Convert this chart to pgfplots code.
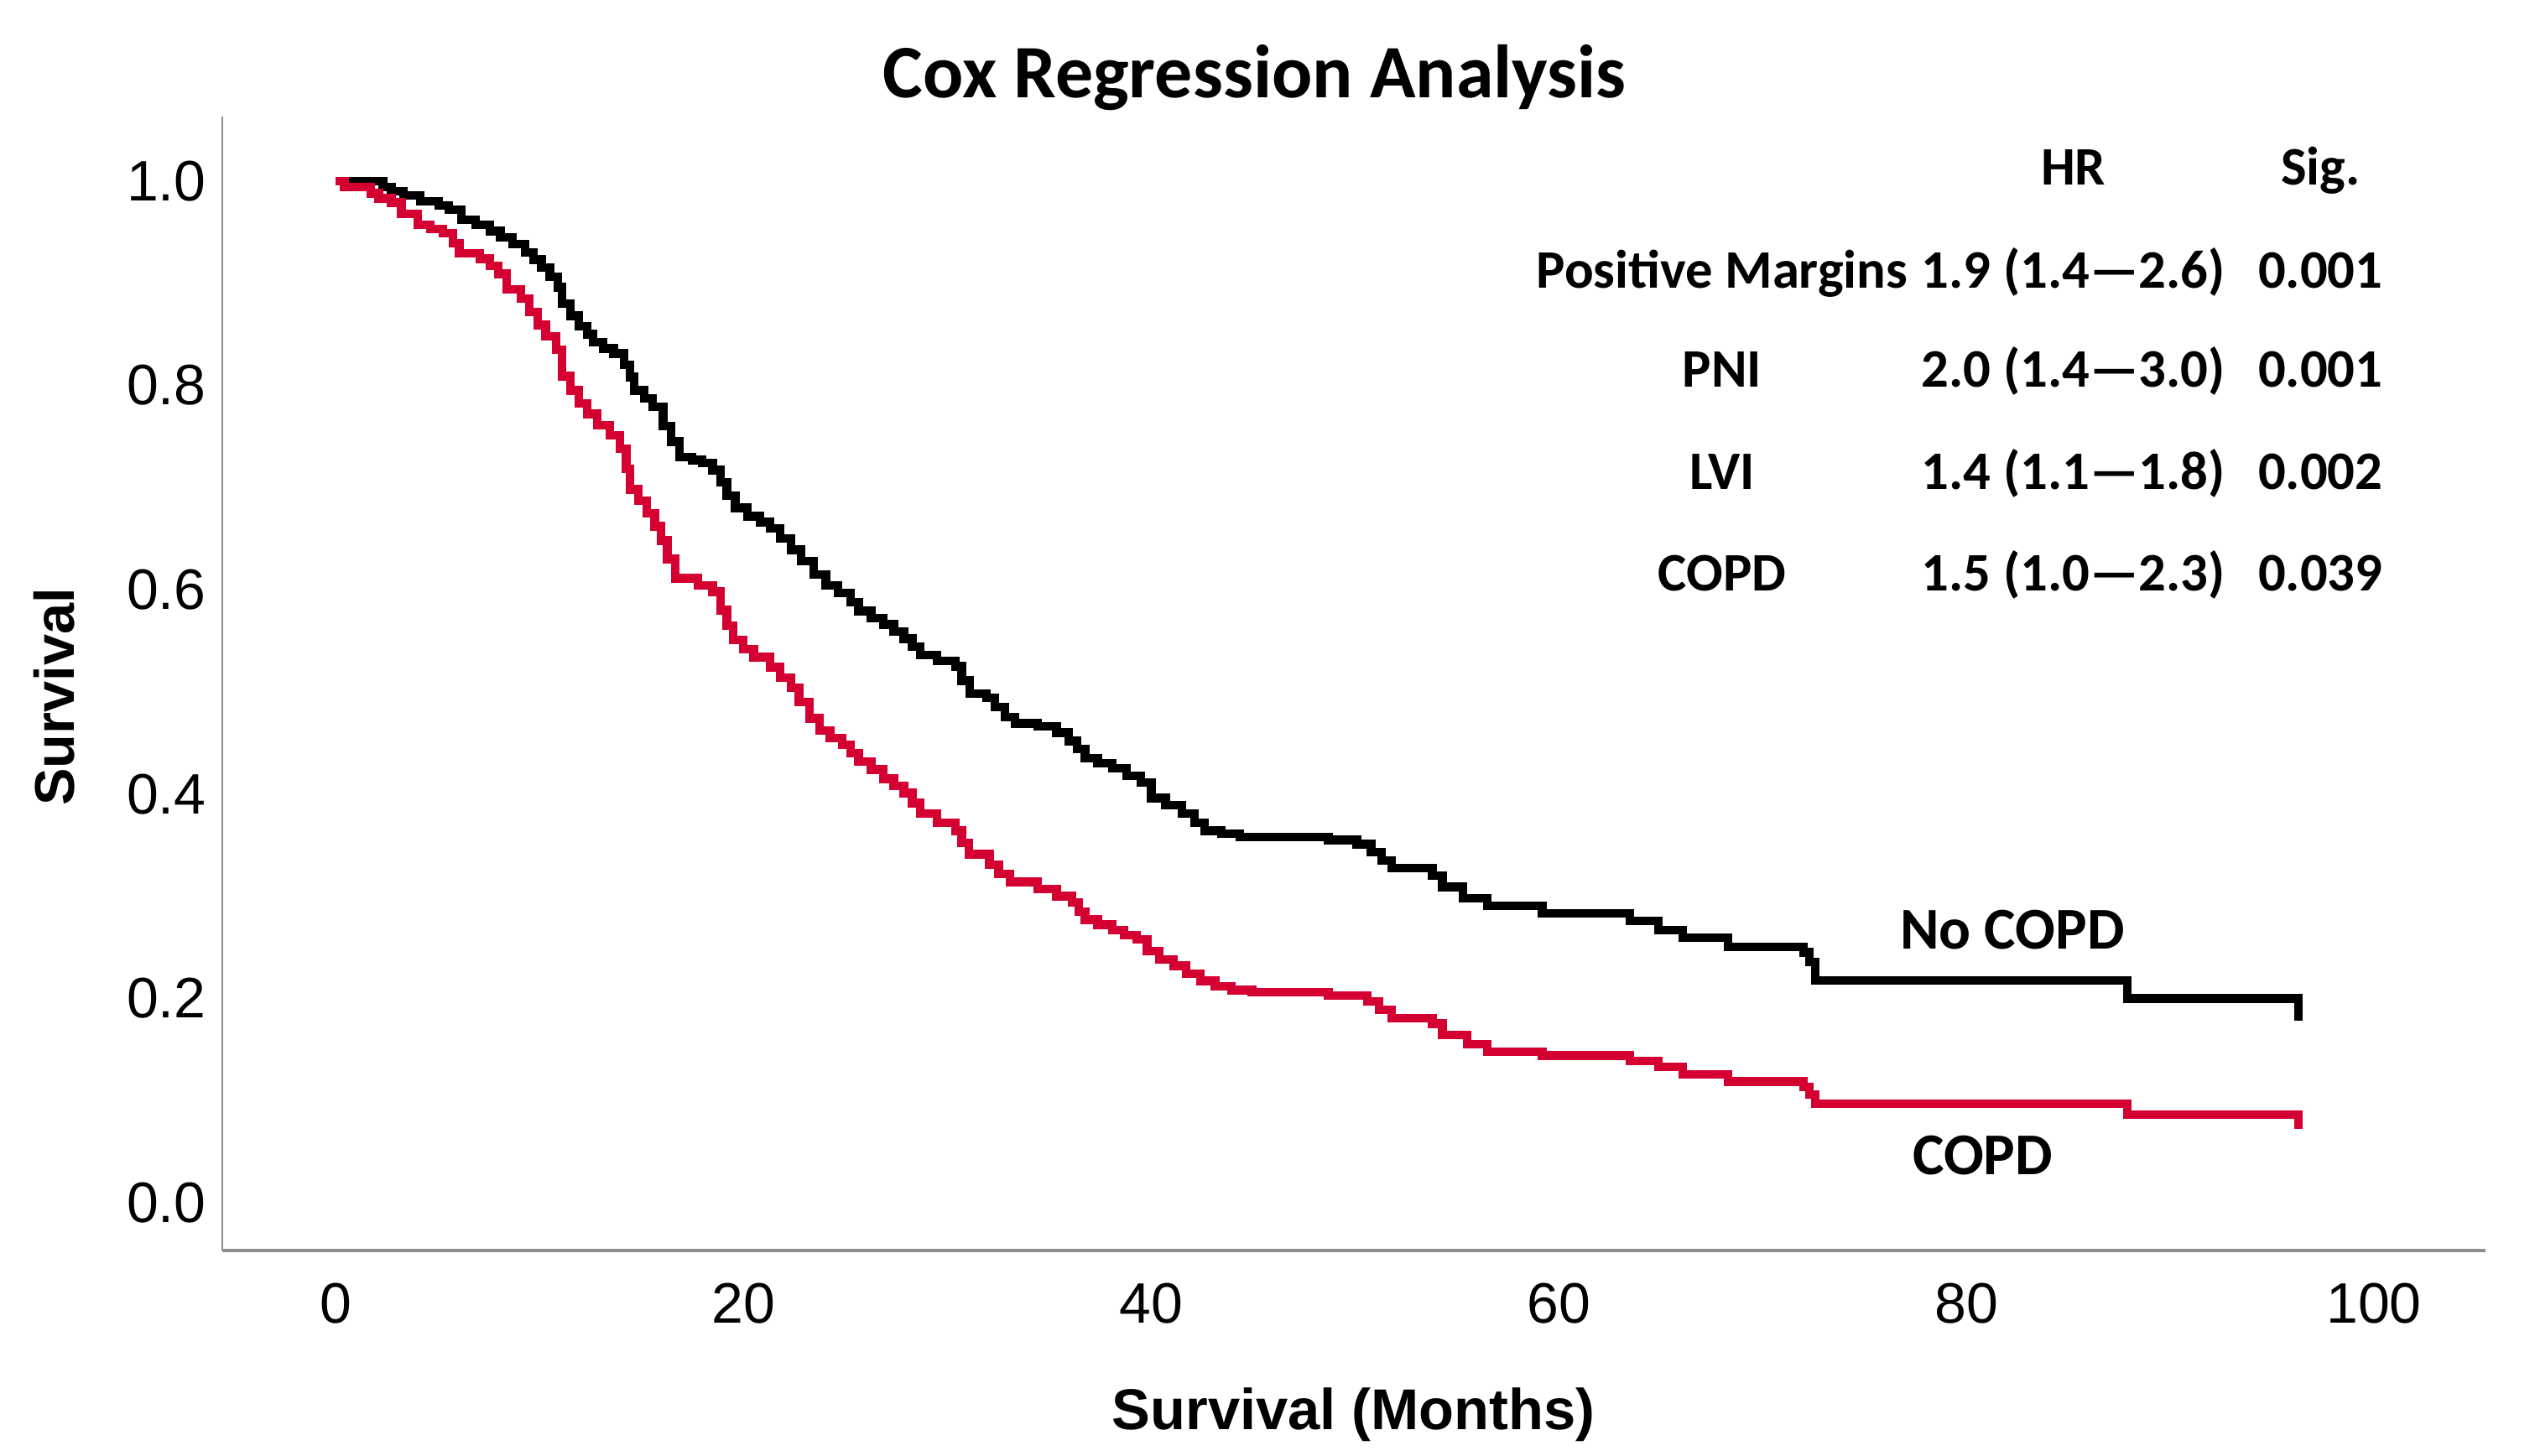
\documentclass[border=0pt]{standalone}
\usepackage{fontspec}
\setmainfont{Liberation Sans}
\newfontfamily\calibri{Carlito}
\usepackage{pgfplots}
\pgfplotsset{compat=1.18}
\definecolor{copdred}{RGB}{213,0,50}
\definecolor{axgray}{RGB}{140,140,140}

\pgfplotstableread{
t s
0 1.000
2.32 0.994
2.73 0.990
3.33 0.986
4.14 0.980
5.05 0.976
5.56 0.972
6.16 0.962
6.87 0.957
7.58 0.951
8.08 0.945
8.69 0.938
9.29 0.930
9.70 0.923
10.10 0.915
10.51 0.906
10.91 0.896
11.11 0.880
11.52 0.868
11.92 0.858
12.33 0.850
12.63 0.842
13.13 0.836
13.64 0.831
14.14 0.820
14.45 0.808
14.65 0.795
15.15 0.787
15.56 0.779
16.06 0.760
16.47 0.745
16.87 0.730
17.48 0.727
17.98 0.724
18.49 0.717
18.89 0.705
19.20 0.692
19.60 0.680
20.21 0.672
20.81 0.666
21.32 0.660
21.82 0.650
22.33 0.639
22.83 0.628
23.44 0.615
24.05 0.604
24.65 0.597
25.26 0.588
25.66 0.579
26.27 0.572
26.87 0.566
27.38 0.559
27.88 0.552
28.29 0.544
28.69 0.536
29.50 0.530
30.41 0.525
30.71 0.511
31.12 0.498
31.93 0.494
32.33 0.485
32.83 0.475
33.34 0.469
34.45 0.466
35.36 0.460
35.97 0.452
36.37 0.444
36.77 0.435
37.38 0.430
38.09 0.425
38.80 0.418
39.50 0.411
40.01 0.396
40.71 0.389
41.52 0.381
42.13 0.372
42.63 0.364
43.44 0.361
44.35 0.358
48.70 0.355
50.1 0.351
50.8 0.343
51.3 0.335
51.8 0.3275
53.8 0.320
54.3 0.309
55.3 0.298
56.5 0.2906
59.2 0.2834
63.5 0.276
64.9 0.2668
66.1 0.2595
68.3 0.2504
72.0 0.245
72.3 0.2357
72.6 0.2175
87.9 0.200
96.3 0.178
}\nocopd

\pgfplotstableread{
t s
0 1.000
0.43 0.994
1.72 0.988
2.12 0.983
2.73 0.979
3.23 0.968
4.04 0.957
4.65 0.953
5.25 0.949
5.76 0.939
6.06 0.929
7.07 0.924
7.58 0.917
7.98 0.909
8.39 0.894
9.09 0.885
9.50 0.872
9.90 0.859
10.31 0.848
10.81 0.835
11.11 0.809
11.52 0.795
11.92 0.782
12.33 0.772
12.83 0.761
13.44 0.751
13.94 0.738
14.25 0.718
14.45 0.698
14.85 0.687
15.26 0.675
15.66 0.662
15.96 0.648
16.27 0.630
16.67 0.611
17.78 0.604
18.49 0.598
18.89 0.580
19.20 0.565
19.50 0.551
20.00 0.542
20.51 0.534
21.32 0.524
21.82 0.514
22.33 0.504
22.73 0.490
23.24 0.474
23.74 0.462
24.25 0.455
24.85 0.448
25.26 0.440
25.66 0.432
26.27 0.424
26.87 0.415
27.38 0.408
27.88 0.401
28.29 0.391
28.69 0.381
29.50 0.372
30.41 0.364
30.71 0.352
31.07 0.341
32.08 0.331
32.53 0.322
33.09 0.314
34.45 0.307
35.36 0.300
36.12 0.294
36.47 0.285
36.77 0.277
37.38 0.272
38.09 0.267
38.69 0.262
39.30 0.258
39.81 0.246
40.41 0.238
41.12 0.232
41.73 0.224
42.43 0.217
43.14 0.212
43.95 0.208
44.96 0.206
48.70 0.2028
50.6 0.197
51.2 0.189
51.8 0.1808
53.8 0.1753
54.3 0.164
55.5 0.155
56.5 0.1478
59.2 0.144
63.5 0.1387
64.9 0.133
66.1 0.1258
68.3 0.1185
72.0 0.113
72.3 0.106
72.6 0.0966
87.9 0.086
96.3 0.072
}\copd

\begin{document}
\begin{tikzpicture}
\path[use as bounding box] (-39.75pt,-36.6pt) rectangle (413.55pt,223.65pt);
\begin{axis}[
  at={(0,0)}, anchor=south west,
  scale only axis, width=404.7pt, height=202.8pt,
  xmin=-5.56, xmax=105.47, ymin=-0.0468, ymax=1.063,
  axis x line*=bottom, axis y line*=left,
  x axis line style={axgray, line width=0.7pt},
  y axis line style={axgray, line width=0.35pt},
  xtick={0,20,40,60,80,100},
  ytick={0,0.2,0.4,0.6,0.8,1.0},
  major tick length=0pt,
  /pgf/number format/assume math mode=true,
  tick label style={font=\fontsize{10.2}{12}\selectfont, text=black},
  xticklabel style={anchor=north, inner sep=0pt, yshift=-5.7pt},
  yticklabel style={anchor=east, inner sep=0pt, xshift=-2.7pt,
    /pgf/number format/fixed, /pgf/number format/fixed zerofill,
    /pgf/number format/precision=1},
  clip=false,
]
\addplot[const plot, black, line width=1.55pt] table[x=t, y=s] {\nocopd};
\addplot[const plot, copdred, line width=1.55pt] table[x=t, y=s] {\copd};
\end{axis}
\node[anchor=base, font=\calibri\bfseries\fontsize{13.5}{15}\selectfont] at (184.6pt,206.1pt) {Cox Regression Analysis};
\node[rotate=90, inner sep=0pt, font=\bfseries\fontsize{10}{12}\selectfont] at (-30pt,99pt) {Survival};
\node[anchor=base, inner sep=0pt, font=\bfseries\fontsize{10.3}{12}\selectfont] at (202.3pt,-32pt) {Survival (Months)};
\begin{scope}[every node/.style={anchor=base, inner sep=0pt, font=\calibri\bfseries\fontsize{9.7}{11}\selectfont}]
\node at (331pt,190.5pt) {HR};
\node at (375.2pt,190.5pt) {Sig.};
\node at (268.2pt,172.05pt) {Positive Margins};
\node at (331pt,172.05pt) {1.9 (1.4—2.6)};
\node at (375.2pt,172.05pt) {0.001};
\node at (268.2pt,154.35pt) {PNI};
\node at (331pt,154.35pt) {2.0 (1.4—3.0)};
\node at (375.2pt,154.35pt) {0.001};
\node at (268.2pt,136.05pt) {LVI};
\node at (331pt,136.05pt) {1.4 (1.1—1.8)};
\node at (375.2pt,136.05pt) {0.002};
\node at (268.2pt,117.9pt) {COPD};
\node at (331pt,117.9pt) {1.5 (1.0—2.3)};
\node at (375.2pt,117.9pt) {0.039};
\end{scope}
\node[anchor=base, inner sep=0pt, font=\calibri\bfseries\fontsize{10.6}{12}\selectfont] at (320.1pt,53.9pt) {No COPD};
\node[anchor=base, inner sep=0pt, font=\calibri\bfseries\fontsize{10.6}{12}\selectfont] at (314.8pt,13.6pt) {COPD};
\end{tikzpicture}
\end{document}
